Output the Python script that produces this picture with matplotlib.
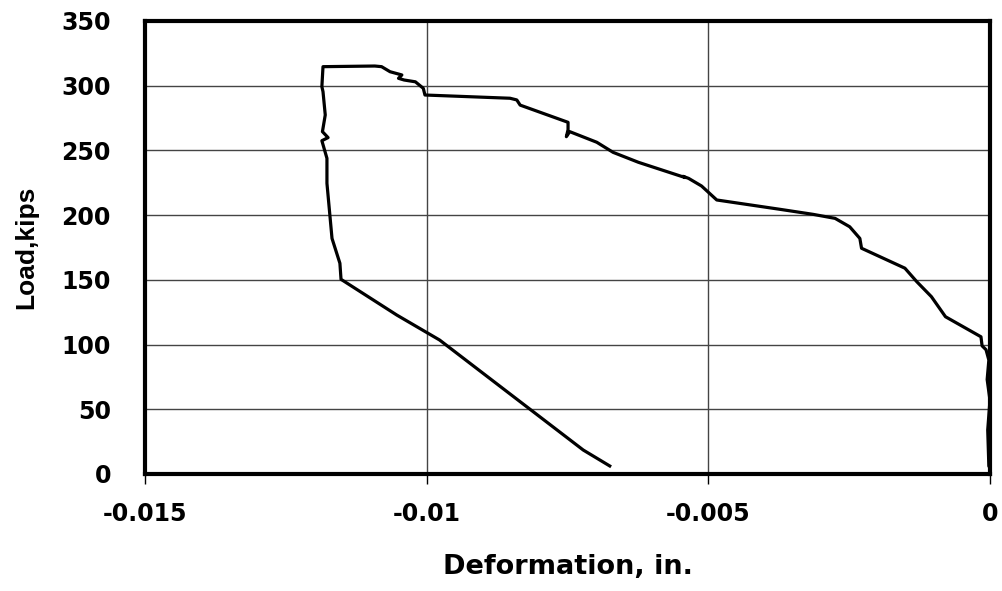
import matplotlib.pyplot as plt

# Load-deformation curve
deformation = [0.0, -0.00002, -0.00004, 0.0, -0.00005, -0.00002, -0.00007, -0.00014,
               -0.00016, -0.00079, -0.00104, -0.0013, -0.00151, -0.00228, -0.00231,
               -0.00249, -0.00275, -0.00314, -0.00373, -0.00485, -0.00512, -0.00535,
               -0.00545, -0.00541, -0.00624, -0.00669, -0.00698, -0.00746, -0.00752,
               -0.00749, -0.00749, -0.00834, -0.0084, -0.00852, -0.01003, -0.01006,
               -0.0102, -0.0104, -0.0105, -0.01044, -0.01065, -0.0108, -0.01092,
               -0.01184, -0.01186, -0.01184, -0.0118, -0.01185, -0.01175, -0.01186,
               -0.01177, -0.01177, -0.01168, -0.01154, -0.01152, -0.01053, -0.00977,
               -0.00722, -0.00675]
load = [5, 6, 34, 57, 73, 88, 96, 99,
        106, 121.5, 137, 148.6, 159, 174.4, 182,
        191, 197.5, 200.6, 204.5, 211.7, 222.5, 228.4,
        230, 229, 240.8, 248.5, 256.3, 264.5, 260.6,
        266, 271.7, 285, 289, 290.3, 292.8, 298,
        303, 304.4, 305.7, 308.3, 310.8, 314.7, 315.2,
        314.7, 299.2, 295.4, 277.4, 264.5, 259.9, 257.5,
        243.9, 224.6, 182, 162.8, 150.4, 122.8, 103.5,
        18.5, 6.2]

x_ticks = [-0.015, -0.01, -0.005, 0]
x_tick_labels = ['-0.015', '-0.01', '-0.005', '0']
y_ticks = [0, 50, 100, 150, 200, 250, 300, 350]

plt.rcParams['font.family'] = ['DejaVu Sans']
plt.rcParams['font.weight'] = 'bold'

fig = plt.figure(figsize=(10.02, 5.91), dpi=100)
ax = fig.add_axes([0.1447, 0.198, 0.8433, 0.7665])

ax.plot(deformation, load, color='black', linewidth=2.3, solid_joinstyle='round')

ax.set_xlim(-0.015, 0)
ax.set_ylim(0, 350)
ax.set_xticks(x_ticks)
ax.set_xticklabels(x_tick_labels)
ax.set_yticks(y_ticks)
ax.grid(True, color='#444444', linewidth=1)
ax.set_axisbelow(True)

for spine in ax.spines.values():
    spine.set_linewidth(3)
    spine.set_color('black')

ax.tick_params(axis='x', direction='out', length=7, width=1, pad=13, labelsize=17)
ax.tick_params(axis='y', length=0, pad=24.5, labelsize=17)
for lab in ax.get_xticklabels() + ax.get_yticklabels():
    lab.set_fontweight('bold')

ax.set_xlabel('Deformation, in.', fontsize=19.5, fontweight='bold', labelpad=20)
ax.set_ylabel('Load,kips', fontsize=19, fontweight='bold', labelpad=17,
              family=['Liberation Sans', 'DejaVu Sans'])

plt.savefig('out.png', dpi=100)
